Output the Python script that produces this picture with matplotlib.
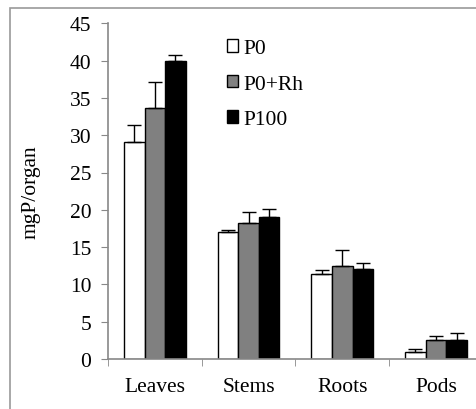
import matplotlib.pyplot as plt
import numpy as np
from matplotlib.patches import Rectangle

# Datos
organos = ['Leaves', 'Stems', 'Roots', 'Pods']
tratamientos = ['P0', 'P0+Rh', 'P100']
p0 = [29.1, 17.0, 11.35, 0.98]
p0_rh = [33.6, 18.2, 12.45, 2.55]
p100 = [39.9, 19.05, 12.05, 2.6]
err_p0 = [2.3, 0.35, 0.55, 0.4]
err_p0_rh = [3.5, 1.55, 2.15, 0.55]
err_p100 = [0.85, 1.1, 0.85, 0.85]
colores = ['white', '#808080', 'black']

plt.rcParams['font.family'] = 'Liberation Serif'
fs = 15.5

fig = plt.figure(figsize=(4.76, 4.10), dpi=100)
ax = fig.add_axes([108 / 476, 1 - 360 / 410, 374.8 / 476, 335.7 / 410])

# Marco gris exterior
fig.patches.append(Rectangle((10 / 476, -0.1), 1.1, 1 - 9 / 410 + 0.1,
                             transform=fig.transFigure, fill=False,
                             edgecolor='#9a9a9a', linewidth=1.2))

x = np.arange(len(organos)) + 0.5
ancho = 0.22
series = [p0, p0_rh, p100]
errores = [err_p0, err_p0_rh, err_p100]
for i, (vals, errs, c, lab) in enumerate(zip(series, errores, colores, tratamientos)):
    pos = x + (i - 1) * ancho
    ax.bar(pos, vals, ancho, color=c, edgecolor='black', linewidth=1.0,
           label=lab, zorder=2)
    ax.errorbar(pos, vals, yerr=[np.zeros(len(vals)), errs], fmt='none',
                ecolor='black', elinewidth=1.0, capsize=5, capthick=1.0, zorder=3)

ax.set_xlim(0, 4)
ax.set_ylim(0, 45)
ax.set_yticks(range(0, 46, 5))
ax.set_xticks(x)
ax.set_xticklabels(organos)
ax.set_xticks(np.arange(0, 5), minor=True)
ax.tick_params(axis='x', which='major', length=0, pad=13, labelsize=fs)
ax.tick_params(axis='x', which='minor', length=5, color='#888888', direction='out')
ax.tick_params(axis='y', length=5, color='#888888', labelsize=fs, pad=7)
for s in ['top', 'right']:
    ax.spines[s].set_visible(False)
for s in ['left', 'bottom']:
    ax.spines[s].set_color('#888888')
    ax.spines[s].set_linewidth(1.2)

ax.set_ylabel('mgP/organ', fontsize=fs, labelpad=21)

ax.legend(loc='upper left', bbox_to_anchor=(0.318, 0.953), frameon=False,
          fontsize=fs, handlelength=0.5, handleheight=0.5,
          handletextpad=0.25, labelspacing=0.77, borderpad=0,
          borderaxespad=0)

plt.savefig('out.png', dpi=100)
